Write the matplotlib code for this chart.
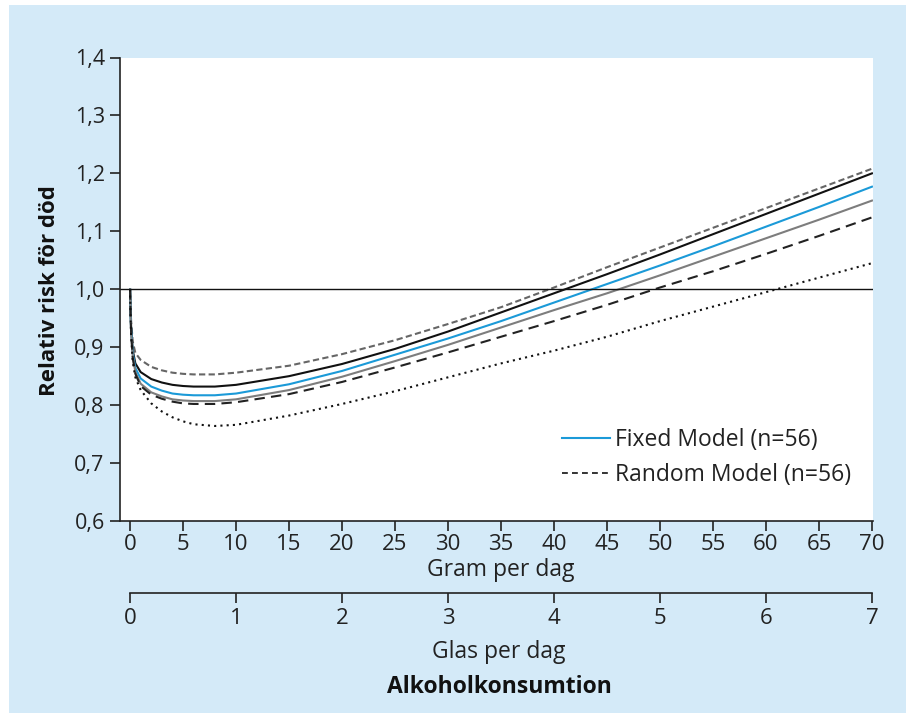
import matplotlib
matplotlib.use("Agg")
import matplotlib.pyplot as plt
from matplotlib.patches import Rectangle

plt.rcParams['font.family'] = ['Open Sans', 'DejaVu Sans']

# gram per dag
x = [0, 0.05, 0.1, 0.25, 0.5, 1, 2, 3, 4, 5, 6, 8, 10, 15, 20, 25, 30, 35, 40, 45, 50, 55, 60, 65, 70]

# relativ risk
upper_fixed = [1.0, 0.965, 0.945, 0.91, 0.89, 0.878, 0.866, 0.860, 0.856, 0.854, 0.853, 0.853, 0.856,
               0.868, 0.888, 0.912, 0.940, 0.969, 1.003, 1.038, 1.072, 1.106, 1.140, 1.174, 1.208]
random_est = [1.0, 0.96, 0.935, 0.895, 0.872, 0.857, 0.845, 0.839, 0.835, 0.833, 0.832, 0.832, 0.835,
              0.850, 0.871, 0.897, 0.927, 0.960, 0.993, 1.026, 1.060, 1.095, 1.130, 1.165, 1.200]
fixed_est = [1.0, 0.955, 0.93, 0.89, 0.864, 0.846, 0.832, 0.825, 0.820, 0.818, 0.817, 0.817, 0.820,
             0.836, 0.859, 0.887, 0.915, 0.945, 0.977, 1.009, 1.041, 1.074, 1.108, 1.142, 1.177]
grey_solid = [1.0, 0.955, 0.925, 0.885, 0.857, 0.837, 0.822, 0.815, 0.810, 0.808, 0.807, 0.807, 0.810,
              0.826, 0.849, 0.876, 0.904, 0.934, 0.964, 0.993, 1.024, 1.056, 1.088, 1.120, 1.153]
lower_fixed = [1.0, 0.955, 0.925, 0.882, 0.854, 0.833, 0.818, 0.811, 0.806, 0.803, 0.802, 0.802, 0.805,
               0.819, 0.840, 0.865, 0.891, 0.918, 0.945, 0.973, 1.003, 1.031, 1.061, 1.092, 1.124]
lower_random = [1.0, 0.95, 0.92, 0.875, 0.848, 0.826, 0.803, 0.789, 0.779, 0.772, 0.767, 0.764, 0.766,
                0.782, 0.802, 0.824, 0.848, 0.872, 0.894, 0.918, 0.945, 0.970, 0.995, 1.020, 1.045]

yticks = [0.6, 0.7, 0.8, 0.9, 1.0, 1.1, 1.2, 1.3, 1.4]
gram_ticks = list(range(0, 71, 5))
glas_ticks = list(range(0, 8))

W, H = 906, 715
fig = plt.figure(figsize=(W / 100, H / 100), dpi=100)
fig.patch.set_facecolor('white')
fig.patches.append(Rectangle((9 / W, 1 - 713 / H), 1 - 9 / W, (713 - 5) / H,
                             transform=fig.transFigure, facecolor='#d4eaf8',
                             edgecolor='none', zorder=-10))

ax = fig.add_axes([120 / W, 1 - 521 / H, (873 - 120) / W, (521 - 57.5) / H])
ax.set_facecolor('white')

lw = 1.5
ax.plot(x, upper_fixed, color='#666666', lw=lw, dashes=(3, 1.6))
ax.plot(x, random_est, color='#111111', lw=lw)
ax.plot(x, fixed_est, color='#1b9ad8', lw=lw, label='Fixed Model (n=56)')
ax.plot(x, grey_solid, color='#7d7d7d', lw=lw)
ax.plot(x, lower_fixed, color='#222222', lw=lw, dashes=(5, 3))
ax.plot(x, lower_random, color='#111111', lw=lw, dashes=(1, 2))
ax.axhline(1.0, color='#111111', lw=1.0)

# legend proxy for random model
ax.plot([], [], color='#111111', lw=1.2, dashes=(3.5, 2.5), label='Random Model (n=56)')
handles, labels = ax.get_legend_handles_labels()
leg = ax.legend(handles, labels, loc='upper left',
                bbox_to_anchor=(562 / W, 1 - 428 / H), bbox_transform=fig.transFigure,
                frameon=False, fontsize=16.5, handlelength=2.1, handletextpad=0.22,
                labelspacing=0.5, borderpad=0, borderaxespad=0)
for t in leg.get_texts():
    t.set_color('#222222')

ax.set_xlim(-0.95, 70.1)
ax.set_ylim(0.6, 1.4)
ax.set_yticks(yticks)
ax.set_yticklabels([f'{v:.1f}'.replace('.', ',') for v in yticks])
ax.set_xticks(gram_ticks)
ax.set_xticklabels([str(v) for v in gram_ticks])
for s in ['top', 'right']:
    ax.spines[s].set_visible(False)
for s in ['left', 'bottom']:
    ax.spines[s].set_linewidth(1.2)
    ax.spines[s].set_color('#222222')
ax.tick_params(axis='both', direction='out', length=7, width=1.2, color='#222222',
               labelcolor='#222222')
ax.tick_params(axis='y', pad=4, labelsize=15.5)
ax.tick_params(axis='x', pad=2, labelsize=16)

# glas per dag (10 g per glas)
sec = ax.secondary_xaxis((521 - 593) / (521 - 57.5), functions=(lambda g: g / 10, lambda g: g * 10))
sec.set_xticks(glas_ticks)
sec.set_xticklabels([str(v) for v in glas_ticks])
sec.spines['bottom'].set_bounds(0, 7)
sec.spines['bottom'].set_linewidth(1.2)
sec.spines['bottom'].set_color('#222222')
sec.tick_params(axis='x', direction='out', length=7, width=1.2, color='#222222',
                labelsize=16, labelcolor='#222222', pad=4)

fig.text(501 / W, 1 - 570 / H, 'Gram per dag', ha='center', va='center', fontsize=16.5, color='#222222')
fig.text(499 / W, 1 - 652 / H, 'Glas per dag', ha='center', va='center', fontsize=16.5, color='#222222')
fig.text(499 / W, 1 - 687 / H, 'Alkoholkonsumtion', ha='center', va='center', fontsize=16.5,
         fontweight='bold', color='#111111')
fig.text(50 / W, 1 - 291 / H, 'Relativ risk för död', ha='center', va='center', fontsize=16,
         fontweight='bold', rotation=90, color='#111111')

fig.savefig('out.png', dpi=100)
